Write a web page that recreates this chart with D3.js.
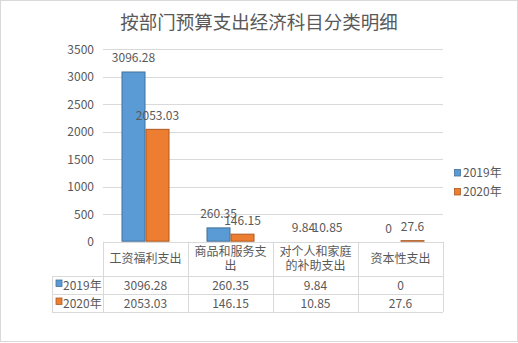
<!DOCTYPE html>
<html><head><meta charset="utf-8">
<script src="https://cdn.jsdelivr.net/npm/d3@7"></script>
<style>body{margin:0;background:#fff;} svg{display:block;}</style>
</head><body>
<svg id="c" width="518" height="343"></svg>
<script>
const title = "按部门预算支出经济科目分类明细";
const categories = ["工资福利支出", "商品和服务支出", "对个人和家庭的补助支出", "资本性支出"];
const categoryLines = [["工资福利支出"], ["商品和服务支", "出"], ["对个人和家庭", "的补助支出"], ["资本性支出"]];
const seriesNames = ["2019年", "2020年"];
const values2019 = [3096.28, 260.35, 9.84, 0];
const values2020 = [2053.03, 146.15, 10.85, 27.6];
const labels2019 = ["3096.28", "260.35", "9.84", "0"];
const labels2020 = ["2053.03", "146.15", "10.85", "27.6"];
const yTicks = [0, 500, 1000, 1500, 2000, 2500, 3000, 3500];
const colors = ["#5B9BD5", "#ED7D31"];
const strokes = ["#41719C", "#AE5A21"];

const font = "'Noto Sans CJK SC','Microsoft YaHei',sans-serif";
const txt = "#595959";
const grid = "#D9D9D9";

const svg = d3.select("#c");
svg.append("rect").attr("x",0.5).attr("y",0.5).attr("width",517).attr("height",341)
  .attr("fill","#fff").attr("stroke","#D9D9D9");

svg.append("text").attr("x",259).attr("y",29).attr("text-anchor","middle")
  .attr("font-family",font).attr("font-size",18.5).attr("fill",txt).text(title);

const pLeft = 103, pRight = 443, pTop = 49.3, pBottom = 241.7;
const y = d3.scaleLinear().domain([0,3500]).range([pBottom, pTop]);
const x = d3.scaleBand().domain(categories).range([pLeft, pRight]).paddingInner(0).paddingOuter(0);
const xs = d3.scaleBand().domain(seriesNames).range([0, x.bandwidth()]).paddingInner(0).paddingOuter(0.77);

svg.append("g").selectAll("line").data(yTicks.filter(d=>d>0)).join("line")
  .attr("x1",pLeft).attr("x2",pRight).attr("y1",d=>Math.round(y(d))+0.5).attr("y2",d=>Math.round(y(d))+0.5)
  .attr("stroke",grid).attr("stroke-width",1);

const yAxis = d3.axisLeft(y).tickValues(yTicks).tickFormat(d3.format("d")).tickSize(0).tickPadding(9);
const ga = svg.append("g").attr("transform",`translate(${pLeft},0)`).call(yAxis);
ga.select(".domain").remove();
ga.selectAll("text").attr("font-family",font).attr("font-size",12).attr("fill",txt).attr("x",-9);

const seriesVals = [values2019, values2020];
const seriesLabels = [labels2019, labels2020];
seriesNames.forEach((s, si) => {
  const g = svg.append("g");
  g.selectAll("rect").data(categories).join("rect")
    .attr("x", c => x(c) + xs(s) + 0.5)
    .attr("y", (c,i) => y(seriesVals[si][i]) + 0.5)
    .attr("width", xs.bandwidth() - 1)
    .attr("height", (c,i) => Math.max(0, y(0) - y(seriesVals[si][i]) - 1))
    .attr("fill", colors[si]).attr("stroke", strokes[si]).attr("stroke-width",1);
  g.selectAll("text").data(categories).join("text")
    .attr("x", c => x(c) + xs(s) + xs.bandwidth()/2)
    .attr("y", (c,i) => y(seriesVals[si][i]) - 9)
    .attr("text-anchor","middle").attr("font-family",font).attr("font-size",12).attr("fill",txt)
    .text((c,i) => seriesLabels[si][i]);
});

const tLeft = 52, h0 = pBottom, h1 = 276, h2 = 294, h3 = 312;
const tg = svg.append("g").attr("stroke", grid).attr("stroke-width",1);
tg.append("line").attr("x1",pLeft).attr("x2",pRight).attr("y1",Math.round(h0)+0.5).attr("y2",Math.round(h0)+0.5);
[h1,h2,h3].forEach(hy => tg.append("line").attr("x1",tLeft).attr("x2",pRight).attr("y1",hy+0.5).attr("y2",hy+0.5));
tg.append("line").attr("x1",tLeft+0.5).attr("x2",tLeft+0.5).attr("y1",h1).attr("y2",h3);
categories.forEach(c => tg.append("line").attr("x1",Math.round(x(c))+0.5).attr("x2",Math.round(x(c))+0.5).attr("y1",h0).attr("y2",h3));
tg.append("line").attr("x1",pRight+0.5).attr("x2",pRight+0.5).attr("y1",h0).attr("y2",h3);

categories.forEach((c, i) => {
  const lines = categoryLines[i];
  const cx = x(c) + x.bandwidth()/2;
  const lh = 14;
  const startY = (h0+h1)/2 - (lines.length-1)*lh/2 + 4.5;
  const t = svg.append("text").attr("text-anchor","middle")
    .attr("font-family",font).attr("font-size",12).attr("fill",txt);
  lines.forEach((ln, j) => {
    t.append("tspan").attr("x",cx).attr("y",startY + j*lh).text(ln);
  });
});
const rowY = [(h1+h2)/2 + 4.5, (h2+h3)/2 + 4.5];
seriesNames.forEach((s, si) => {
  svg.append("rect").attr("x",56).attr("y",rowY[si]-9.5).attr("width",6).attr("height",6.5)
    .attr("fill",colors[si]).attr("stroke",strokes[si]).attr("stroke-width",0.8);
  svg.append("text").attr("x",63).attr("y",rowY[si]).attr("font-family",font).attr("font-size",12).attr("fill",txt).text(s);
  categories.forEach((c, i) => {
    svg.append("text").attr("x", x(c)+x.bandwidth()/2).attr("y",rowY[si]).attr("text-anchor","middle")
      .attr("font-family",font).attr("font-size",12).attr("fill",txt).text(seriesLabels[si][i]);
  });
});

const legY = [177, 196];
seriesNames.forEach((s, si) => {
  svg.append("rect").attr("x",454.5).attr("y",legY[si]-7.5).attr("width",6).attr("height",6.5)
    .attr("fill",colors[si]).attr("stroke",strokes[si]).attr("stroke-width",0.8);
  svg.append("text").attr("x",463).attr("y",legY[si]).attr("font-family",font).attr("font-size",12).attr("fill",txt).text(s);
});
</script>
</body></html>
